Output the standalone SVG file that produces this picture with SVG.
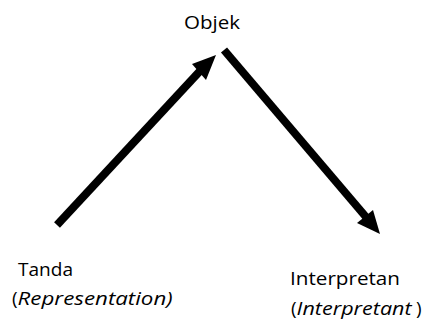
<svg xmlns="http://www.w3.org/2000/svg" width="427" height="323" viewBox="0 0 427 323">
<style>
text{font-family:"Open Sans","Noto Sans",sans-serif;font-size:19px;fill:#000}
.i{font-style:italic}
.ln{stroke:#000;stroke-width:8;fill:none}
.hd{fill:#000}
</style>
<rect width="427" height="323" fill="#fff"/>
<g id="connectors">
<line class="ln" x1="57" y1="225" x2="200" y2="71"/>
<polygon class="hd" points="216,55 192,64 206,80"/>
<line class="ln" x1="224" y1="50" x2="366" y2="217"/>
<polygon class="hd" points="380,234 357,223 373,210"/>
</g>
<g id="objek"><text x="184" y="29" textLength="56" lengthAdjust="spacingAndGlyphs">Objek</text></g>
<g id="tanda"><text x="18" y="276" textLength="55" lengthAdjust="spacingAndGlyphs">Tanda</text><text x="12" y="305">(<tspan class="i" textLength="155" lengthAdjust="spacingAndGlyphs">Representation)</tspan></text></g>
<g id="interpretan"><text x="290" y="285" textLength="110" lengthAdjust="spacingAndGlyphs">Interpretan</text><text x="291" y="315">(<tspan class="i" textLength="115" lengthAdjust="spacingAndGlyphs">Interpretant</tspan><tspan x="416">)</tspan></text></g>
</svg>
